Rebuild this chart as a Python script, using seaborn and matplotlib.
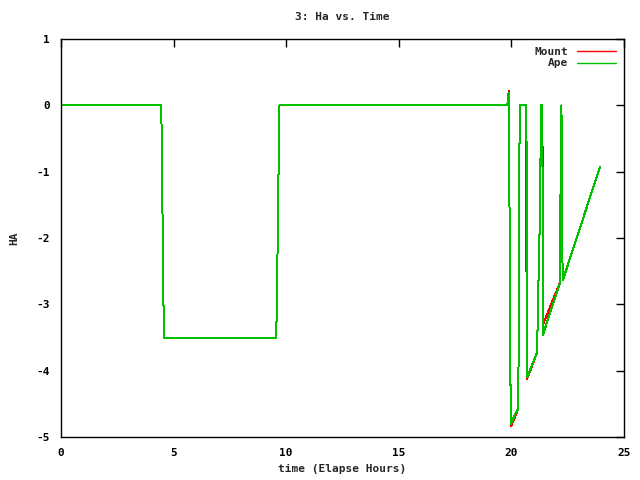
import pandas as pd
import seaborn as sns
import matplotlib
matplotlib.use("Agg")
import matplotlib.pyplot as plt

# valores (tempo em horas, HA)
ape_time = [0, 4.45, 4.49, 4.53, 4.58, 9.56, 9.58, 9.63, 9.67, 9.70,
            19.82, 19.86, 19.90, 19.91, 19.94, 19.98, 20.07, 20.18, 20.31,
            20.32, 20.34, 20.38, 20.66, 20.68, 20.70, 21.15, 21.16, 21.20,
            21.26, 21.30, 21.33, 21.36, 21.38, 21.40, 22.17, 22.18, 22.22,
            22.24, 22.25, 22.28, 23.93]
ape_ha = [0, 0, -0.88, -2.64, -3.51, -3.51, -2.97, -1.89, -0.68, 0,
          0, 0.15, 0.19, -1.05, -3.60, -4.80, -4.73, -4.65, -4.57,
          -3.41, -1.13, 0, 0, -1.02, -4.10, -3.72, -3.36, -2.69,
          -1.76, -0.57, 0, 0, -0.78, -3.46, -2.66, -1.36, 0,
          -0.63, -1.91, -2.64, -0.93]

mount_time = [0, 4.45, 4.49, 4.53, 4.58, 9.56, 9.58, 9.63, 9.67, 9.70,
              19.82, 19.86, 19.90, 19.91, 19.94, 19.98, 20.07, 20.18, 20.31,
              20.32, 20.34, 20.38, 20.66, 20.665, 20.69, 21.15, 21.16, 21.20,
              21.26, 21.30, 21.33, 21.36, 21.39, 21.41, 22.17, 22.18, 22.22,
              22.24, 22.25, 22.28, 23.93]
mount_ha = [0, 0, -0.88, -2.64, -3.51, -3.51, -2.97, -1.89, -0.68, 0,
            0, 0.16, 0.22, -1.05, -3.60, -4.84, -4.77, -4.68, -4.57,
            -3.41, -1.13, 0, 0, -2.05, -4.13, -3.72, -3.36, -2.69,
            -1.76, -0.57, 0, 0, -0.87, -3.30, -2.66, -1.36, 0,
            -0.63, -1.91, -2.64, -0.93]

df = pd.concat([
    pd.DataFrame({"time": mount_time, "HA": mount_ha, "serie": "Mount"}),
    pd.DataFrame({"time": ape_time, "HA": ape_ha, "serie": "Ape"}),
])

sns.set_style("white")
plt.rcParams["font.family"] = ["DejaVu Sans Mono"]
plt.rcParams["font.weight"] = "bold"
plt.rcParams["axes.unicode_minus"] = False

fig = plt.figure(figsize=(6.4, 4.8), dpi=100)
ax = fig.add_axes([61 / 640, 1 - 437 / 480, 563 / 640, 398 / 480])

sns.lineplot(data=df, x="time", y="HA", hue="serie", sort=False, estimator=None,
             palette={"Mount": "#ff0000", "Ape": "#00c000"}, linewidth=0.72,
             antialiased=False, ax=ax)

ax.set_xlim(0, 25)
ax.set_ylim(-5, 1)
ax.set_xticks([0, 5, 10, 15, 20, 25])
ax.set_yticks([-5, -4, -3, -2, -1, 0, 1])
ax.tick_params(direction="in", length=6, width=1, top=True, right=True,
               labelsize=8, pad=8, colors="black")
for s in ax.spines.values():
    s.set_color("black")
    s.set_linewidth(1)

ax.set_title("3: Ha vs. Time", fontsize=8, fontweight="bold", pad=14)
ax.set_xlabel("time (Elapse Hours)", fontsize=8, fontweight="bold", labelpad=4)
ax.set_ylabel("HA", fontsize=8, fontweight="bold", labelpad=12)

leg = ax.legend(loc="upper right", frameon=False, markerfirst=False, fontsize=8,
                handlelength=3.5, labelspacing=0.15, borderaxespad=0.3, title=None)
for ln in leg.get_lines():
    ln.set_antialiased(True)
    ln.set_linewidth(1)

fig.savefig("out.png", dpi=100)
